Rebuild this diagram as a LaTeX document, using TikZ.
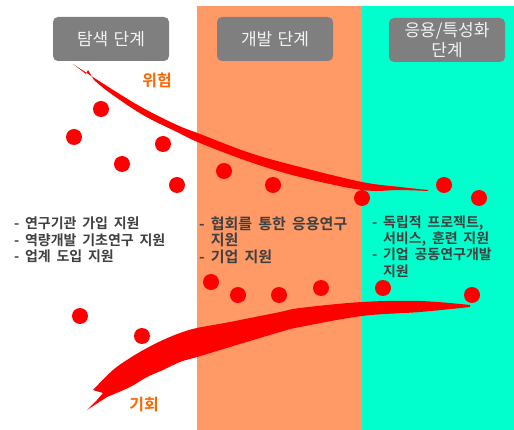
\documentclass[tikz,border=0pt]{standalone}
\usepackage{fontspec}
\setmainfont{Noto Sans CJK KR}[BoldFont=* Bold]
\newfontfamily\titlefont{Noto Sans CJK KR}[WordSpace=1.4]
\newfontfamily\listfont{Noto Sans CJK KR Bold}[WordSpace=1.8]
\definecolor{bandorange}{HTML}{FF9966}
\definecolor{bandcyan}{HTML}{00FFCC}
\definecolor{stagegray}{HTML}{7F7F7F}
\definecolor{stagetext}{HTML}{F2F2F2}
\definecolor{bodytext}{HTML}{404040}
\definecolor{labelorange}{HTML}{FF6600}
\begin{document}
\begin{tikzpicture}[x=1pt,y=-1pt,
  stagebox/.style={fill=stagegray, rounded corners=5pt, text=stagetext,
    font=\titlefont\fontsize{17}{20}\selectfont, align=center,
    minimum width=116pt, minimum height=44pt, inner sep=0pt},
  dot/.style={circle, fill=red, minimum size=16pt, inner sep=0pt},
  support/.style={anchor=north west, align=left, text=bodytext,
    font=\listfont\fontsize{14}{16.2}\selectfont, inner sep=0pt},
  supportwide/.style={support, font=\listfont\fontsize{15}{16.5}\selectfont},
  trend/.style={text=labelorange, font=\bfseries\fontsize{16}{18}\selectfont},
  brush/.style={fill=red},
  edge/.style={smooth, tension=0.6}
]
\useasboundingbox (0,0) rectangle (514,430);

% stage bands
\fill[bandorange] (197,6) rectangle (362,430);
\fill[bandcyan] (362,6) rectangle (514,430);

% falling brush stroke (risk)
\fill[brush] plot[edge] coordinates {(73,64) (110,88) (143,108) (177,125) (200,134) (250,153) (300,167) (362,182) (400,187) (428,190)}
  -- plot[edge] coordinates {(428,191) (400,190) (362,190) (300,177) (250,162) (200,143) (177,132) (143,115) (110,93) (94,80)}
  -- (88,70) -- (86,74) -- cycle;

% rising brush stroke (opportunity)
\fill[brush] plot[edge] coordinates {(93,390) (113,370) (130,358) (147,348) (163,340) (180,333) (197,328) (230,322) (280,312) (300,308) (362,302) (420,301) (470,305)}
  -- plot[edge] coordinates {(470,307) (420,312) (362,316) (300,327) (280,332) (230,347) (197,357) (180,362) (163,370) (147,377) (130,387) (107,397)}
  -- (87,410) -- (97,400) -- (103,393) -- cycle;

% scattered points
\foreach \i/\p in {1/{(101,109)}, 2/{(74,137)}, 3/{(163,144)}, 4/{(122,164)},
                   5/{(177,185)}, 6/{(224,171)}, 7/{(273,185)}, 8/{(362,198)},
                   9/{(444,185)}, 10/{(479,198)}, 11/{(211,282)}, 12/{(238,295)},
                   13/{(279,295)}, 14/{(321,288)}, 15/{(383,288)}, 16/{(472,295)},
                   17/{(80,316)}, 18/{(142,336)}}
  \node[dot] (d\i) at \p {};

% stage titles
\node[stagebox] (explore) at (111,39) {탐색 단계};
\node[stagebox] (develop) at (275,39) {개발 단계};
\node[stagebox] (apply) at (447,40) {응용/특성화\\단계};

% trend labels
\node[trend] (risk) at (157,80) {위험};
\node[trend] (chance) at (144,405) {기회};

% support programmes per stage
\node[support] (sup1) at (14,217) {- 연구기관 가입 지원\\- 역량개발 기초연구 지원\\- 업계 도입 지원};
\node[supportwide] (sup2) at (199,216.5) {- 협회를 통한 응용연구\\\phantom{- }지원\\- 기업 지원};
\node[support] (sup3) at (372,215.5) {- 독립적 프로젝트,\\\phantom{- }서비스, 훈련 지원\\- 기업 공동연구개발\\\phantom{- }지원};
\end{tikzpicture}
\end{document}
